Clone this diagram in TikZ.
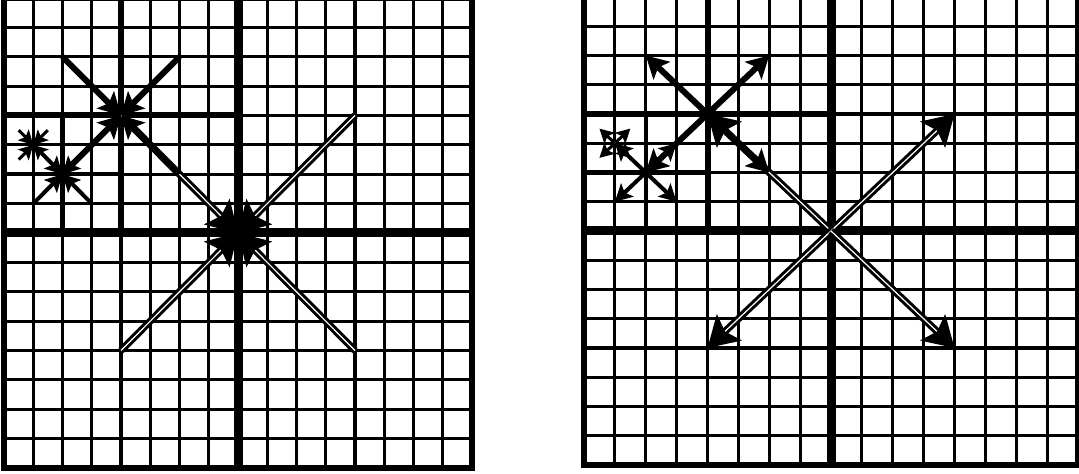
\documentclass[tikz,border=0pt]{standalone}
\usepackage{tikz}
\usetikzlibrary{arrows.meta}

\newcommand{\drawmesh}{%
  \foreach \k in {1,...,15} {
    \draw[fine] (\k,0) -- (\k,16);
    \draw[fine] (0,\k) -- (16,\k);
  }
  \draw[sub] (2,4) -- (2,8) (0,6) -- (4,6);
  \draw[quad] (4,0) -- (4,8) (0,4) -- (8,4);
  \draw[half] (8,0) -- (8,16) (0,8) -- (16,8);
  \draw[frame] (0,0) rectangle (16,16);
}
\newcommand{\meshpoints}[1]{%
  \foreach \lev/\cx/\cy/\h in {0/8/8/4, 1/4/4/2, 2/2/6/1, 3/1/5/0.5} {
    \coordinate (#1\lev) at (\cx,\cy);
    \coordinate (#1\lev-nw) at (\cx-\h,\cy-\h);
    \coordinate (#1\lev-ne) at (\cx+\h,\cy-\h);
    \coordinate (#1\lev-sw) at (\cx-\h,\cy+\h);
    \coordinate (#1\lev-se) at (\cx+\h,\cy+\h);
  }
}

\begin{document}
\begin{tikzpicture}[
  x=0.5pt, y=-0.5pt,
  fine/.style={line width=1.6pt},
  sub/.style={line width=2.2pt},
  quad/.style={line width=3pt},
  half/.style={line width=4.5pt},
  frame/.style={line width=3.4pt},
  lv0/.style={double, line width=1.5pt, double distance=0.6pt,
              arrows={-Stealth[length=15pt, width=18pt, inset=3pt]}},
  lv1/.style={line width=3pt, arrows={-Stealth[length=11pt, width=12pt, inset=2.4pt]}},
  lv2/.style={line width=2pt, arrows={-Stealth[length=8.5pt, width=9pt, inset=1.8pt]}},
  lv3/.style={line width=1.5pt, arrows={-Stealth[length=7pt, width=7.5pt, inset=1.5pt]}}
]
\useasboundingbox (0,0) rectangle (1079,474);

\begin{scope}[shift={(2pt,1pt)}, x=14.625pt, y=-14.6875pt]
  \drawmesh
  \meshpoints{l}
  \foreach \c in {nw,ne,sw,se} \draw[lv0] (l0-\c) -- (l0);
  \foreach \c in {nw,ne,sw,se} \draw[lv1] (l1-\c) -- (l1);
  \foreach \c in {nw,ne,sw,se} \draw[lv2] (l2-\c) -- (l2);
  \foreach \c in {nw,ne,sw,se} \draw[lv3] (l3-\c) -- (l3);
\end{scope}

\begin{scope}[shift={(292pt,1.5pt)}, x=15.4375pt, y=-14.625pt]
  \drawmesh
  \meshpoints{r}
  \foreach \c in {nw,ne,sw,se} \draw[lv0] (r0) -- (r0-\c);
  \foreach \c in {nw,ne,sw,se} \draw[lv1] (r1) -- (r1-\c);
  \foreach \c in {nw,ne,sw,se} \draw[lv2] (r2) -- (r2-\c);
  \foreach \c in {nw,ne,sw,se} \draw[lv3] (r3) -- (r3-\c);
\end{scope}
\end{tikzpicture}
\end{document}
